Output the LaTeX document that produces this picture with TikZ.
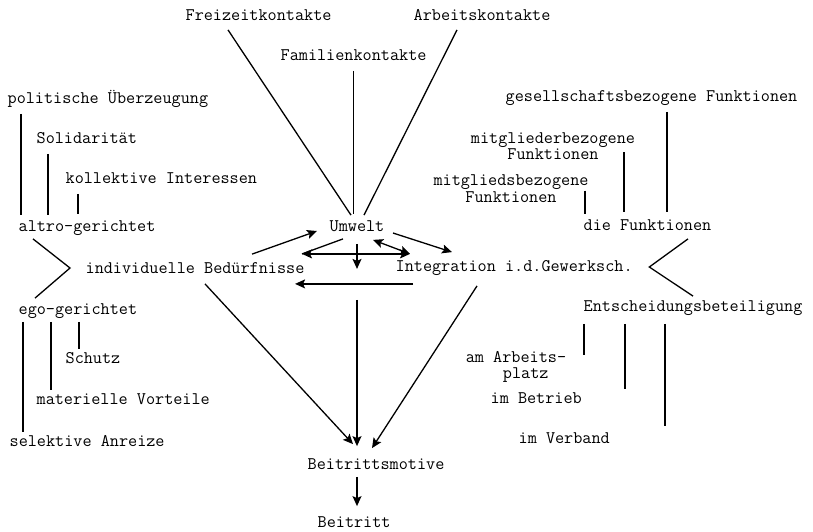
\documentclass[tikz,border=0pt]{standalone}
\usepackage{fontspec}
\usepackage{tikz}
\usetikzlibrary{arrows.meta,calc}

\begin{document}
\begin{tikzpicture}[x=1pt, y=-1pt, line width=1.3pt,
  font=\ttfamily\fontsize{17.7}{16.5}\selectfont,
  lbl/.style={anchor=west, inner sep=0pt, text height=11pt, text depth=3.5pt},
  lbl2/.style={align=center, inner sep=0pt},
  tie/.style={line width=1.5pt},
  arr/.style={-{Stealth[length=10pt,width=9pt,inset=2pt]}},
  darr/.style={{Stealth[length=10pt,width=9pt,inset=2pt]}-{Stealth[length=10pt,width=9pt,inset=2pt]}}]
\useasboundingbox (0,0) rectangle (813,531);

% contacts
\node[lbl] (fz) at (185,17) {Freizeitkontakte};
\node[lbl] (ak) at (413,17) {Arbeitskontakte};
\node[lbl] (fk) at (280,57) {Familienkontakte};

% left side
\node[lbl] (pol) at (7,100) {politische Überzeugung};
\node[lbl] (sol) at (36,140) {Solidarität};
\node[lbl] (koll) at (65,180) {kollektive Interessen};
\node[lbl] (altro) at (18,228) {altro-gerichtet};
\node[lbl] (bed) at (85,270) {individuelle Bedürfnisse};
\node[lbl] (ego) at (18,311) {ego-gerichtet};
\node[lbl] (schutz) at (65,360) {Schutz};
\node[lbl] (mat) at (36,401) {materielle Vorteile};
\node[lbl] (sel) at (9,443) {selektive Anreize};

% middle
\node[lbl] (umw) at (329,228) {Umwelt};
\node[lbl] (integ) at (395,268) {Integration i.d.Gewerksch.};
\node[lbl] (motiv) at (307,466) {Beitrittsmotive};
\node[lbl] (beitritt) at (317,524) {Beitritt};

% right side
\node[lbl] (ges) at (505,98) {gesellschaftsbezogene Funktionen};
\node[lbl2] (mgr) at (553,146) {mitgliederbezogene\\Funktionen};
\node[lbl2] (mgs) at (511,188.5) {mitgliedsbezogene\\Funktionen};
\node[lbl] (fkt) at (583,227) {die Funktionen};
\node[lbl] (ent) at (583,308) {Entscheidungsbeteiligung};
\node[lbl2] (arb) at (516,367) {am Arbeits-\\\hspace*{1.1em}platz};
\node[lbl] (betr) at (490,400) {im Betrieb};
\node[lbl] (verb) at (518,440) {im Verband};

% ties: upper / lower / x offset / gap top / gap bottom
\foreach \a/\b/\dx/\s/\e in {
  pol.south west/altro.north/14/6/5,
  sol.south west/altro.north/12/6/5,
  koll.south west/altro.north/13/6/6,
  ego.south west/sel.north/5/3/3,
  ego.south west/mat.north/33/3/3,
  ego.south west/schutz.north/61/3/3,
  ges.south west/fkt.north/162/6/7,
  mgr.center/fkt.north/71/6/7,
  mgs.center/fkt.north/74/2/5,
  ent.south west/arb.center/1/8/12,
  ent.south west/betr.north/42/8/3,
  ent.south west/verb.north/82/8/6}
{
  \draw[tie] ($(\a)+(\dx,\s)$) coordinate (t) -- ($(t |- \b)+(0,-\e)$);
}

% brackets
\draw ($(altro.south west)+(15,3)$) -- ($(bed.west)+(-15,-2)$) -- ($(ego.north west)+(17,-5)$);
\draw ($(fkt.south west)+(105,4)$) -- ($(integ.east)+(16,-1)$) -- ($(ent.north west)+(110,-4)$);

% contacts into Umwelt
\draw ($(fz.south west)+(43,5)$) -- ($(umw.north)+(-6,-5)$);
\draw ($(fk.south)+(0,6)$) coordinate (f) -- ($(f |- umw.north)+(0,-6)$);
\draw ($(ak.south west)+(44,5)$) -- ($(umw.north)+(7,-5)$);

% around Umwelt
\coordinate (lft) at ($(umw.south)+(-55,18)$);
\coordinate (rgt) at ($(umw.south)+(53,18)$);
\draw[arr] ($(bed.north east)+(-53,-8)$) -- ($(umw.west)+(-12,3)$);
\draw ($(umw.south)+(-14,3)$) -- (lft);
\draw[darr] (lft) -- (rgt);
\draw[darr] ($(umw.south east)+(-12,4)$) -- (rgt);
\draw[arr] ($(umw.south)+(0,8)$) -- ($(umw.south)+(0,33)$);
\draw[arr] ($(umw.east)+(8,5)$) -- ($(integ.north west)+(57,-8)$);
\draw[arr] ($(integ.south west)+(18,8)$) coordinate (h) -- ($(h -| bed.east)+(-10,0)$);

% into Beitrittsmotive
\draw[arr] ($(umw.south)+(0,64)$) coordinate (v) -- ($(v |- motiv.north)+(0,-12)$);
\draw[arr] ($(bed.south west)+(120,6)$) -- ($(motiv.north west)+(46,-14)$);
\draw[arr] ($(integ.south west)+(82,10)$) -- ($(motiv.north west)+(65,-10)$);
\draw[arr] ($(motiv.south west)+(50,3)$) coordinate (w) -- ($(w |- beitritt.north)+(0,-10)$);
\end{tikzpicture}
\end{document}
